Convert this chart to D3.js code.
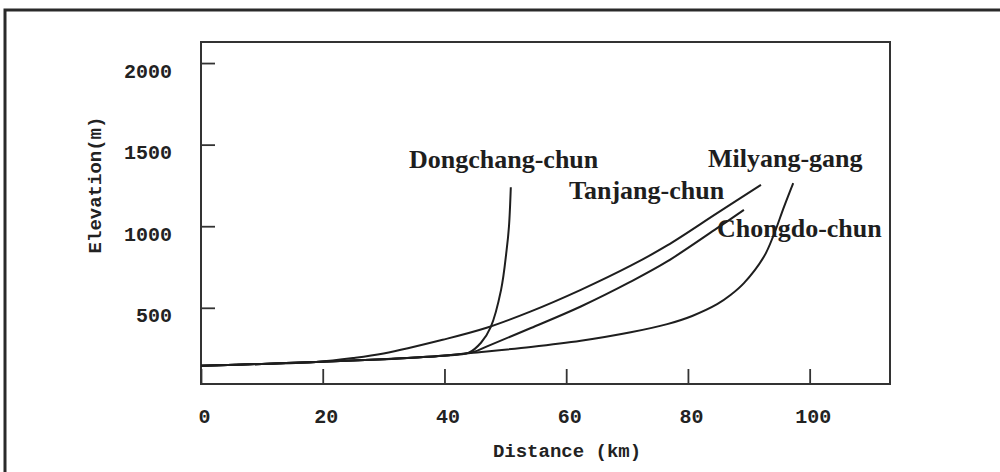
<!DOCTYPE html>
<html>
<head>
<meta charset="utf-8">
<script src="https://cdn.jsdelivr.net/npm/d3@7"></script>
<style>
  html, body { margin: 0; padding: 0; background: #fff; }
  svg { display: block; }
</style>
</head>
<body>
<div id="chart"></div>
<script>
// river profiles (distance km / elevation m)
var milyangDist = [0, 10, 18.9, 30, 39.7, 44.3, 54.2, 62.4, 70.6, 76.6, 80.7, 84.8, 87.0, 89.2, 92.5, 94.1, 95.8, 97.3];
var milyangElev = [145, 156, 168, 185, 206, 223, 260, 298, 350, 400, 450, 522, 578, 651, 814, 947, 1120, 1264];

var tanjangDist = [0, 10, 18.9, 25, 30, 39.7, 46.8, 54.2, 62.4, 70.6, 76.6, 84.8, 92.0];
var tanjangElev = [145, 156, 168, 192, 220, 304, 376, 478, 610, 758, 882, 1080, 1253];

var chongdoDist = [0, 10, 18.9, 30, 39.7, 44.8, 47.0, 54.2, 62.4, 70.6, 76.6, 84.8, 89.2];
var chongdoElev = [145, 156, 168, 185, 206, 230, 264, 376, 508, 660, 784, 988, 1100];

var dongchangDist = [0, 10, 18.9, 30, 39.7, 44.0, 46.0, 47.6, 49.3, 50.2, 50.6, 50.9];
var dongchangElev = [145, 156, 168, 185, 206, 225, 286, 382, 610, 850, 1000, 1239];

var seriesNames = ["Dongchang-chun", "Tanjang-chun", "Milyang-gang", "Chongdo-chun"];
var xTicks = [0, 20, 40, 60, 80, 100];
var yTicks = [500, 1000, 1500, 2000];
var xTitle = "Distance (km)";
var yTitle = "Elevation(m)";

var width = 1000, height = 472;
var box = { left: 201, top: 42, right: 890, bottom: 384 };

var svg = d3.select("#chart").append("svg")
    .attr("width", width)
    .attr("height", height);

// outer frame (runs off right/bottom edge)
svg.append("rect")
    .attr("x", 5).attr("y", 10)
    .attr("width", 1010).attr("height", 480)
    .attr("fill", "none")
    .attr("stroke", "#2a2a2a")
    .attr("stroke-width", 3);

var x = d3.scaleLinear().domain([0, 113.2]).range([box.left, box.right]);
var y = d3.scaleLinear().domain([33, 2129]).range([box.bottom, box.top]);

function zip(ds, es) {
    return ds.map(function(d, i) { return { dist: d, elev: es[i] }; });
}

var profiles = [
    { name: seriesNames[0], values: zip(dongchangDist, dongchangElev) },
    { name: seriesNames[1], values: zip(tanjangDist, tanjangElev) },
    { name: seriesNames[2], values: zip(milyangDist, milyangElev) },
    { name: seriesNames[3], values: zip(chongdoDist, chongdoElev) }
];

var line = d3.line()
    .curve(d3.curveCatmullRom.alpha(0.5))
    .x(function(d) { return x(d.dist); })
    .y(function(d) { return y(d.elev); });

// plot box
svg.append("rect")
    .attr("x", box.left).attr("y", box.top)
    .attr("width", box.right - box.left)
    .attr("height", box.bottom - box.top)
    .attr("fill", "none")
    .attr("stroke", "#333")
    .attr("stroke-width", 2);

var tickFont = "'Liberation Mono', 'DejaVu Sans Mono', monospace";

var xAxis = d3.axisBottom(x).tickValues(xTicks).tickSize(-15).tickPadding(0);
var gx = svg.append("g")
    .attr("transform", "translate(0," + box.bottom + ")")
    .call(xAxis);
gx.select(".domain").remove();
gx.selectAll(".tick line").attr("stroke", "#333").attr("stroke-width", 1.8);
gx.selectAll(".tick text")
    .attr("y", 39).attr("dy", 0)
    .attr("dx", 3)
    .style("font-family", tickFont)
    .style("font-weight", "bold")
    .style("font-size", "20px")
    .attr("fill", "#222");

var yAxis = d3.axisLeft(y).tickValues(yTicks).tickSize(-14).tickPadding(29)
    .tickFormat(d3.format("d"));
var gy = svg.append("g")
    .attr("transform", "translate(" + box.left + ",0)")
    .call(yAxis);
gy.select(".domain").remove();
gy.selectAll(".tick line").attr("stroke", "#333").attr("stroke-width", 1.8);
gy.selectAll(".tick text")
    .attr("dy", 14)
    .style("font-family", tickFont)
    .style("font-weight", "bold")
    .style("font-size", "20px")
    .attr("fill", "#222");

// axis titles
svg.append("text")
    .attr("x", 567).attr("y", 457)
    .attr("text-anchor", "middle")
    .style("font-family", tickFont)
    .style("font-weight", "bold")
    .style("font-size", "19px")
    .attr("fill", "#222")
    .text(xTitle);

svg.append("text")
    .attr("transform", "translate(101,185) rotate(-90)")
    .attr("text-anchor", "middle")
    .style("font-family", tickFont)
    .style("font-weight", "bold")
    .style("font-size", "19px")
    .attr("fill", "#222")
    .text(yTitle);

// profile lines
svg.selectAll(".profile")
    .data(profiles)
    .enter().append("path")
    .attr("class", "profile")
    .attr("fill", "none")
    .attr("stroke", "#1e1e1e")
    .attr("stroke-width", 2)
    .attr("d", function(d) { return line(d.values); });

// curve labels (pixel placement)
var labelPos = {
    "Dongchang-chun": [409, 168],
    "Tanjang-chun": [569, 199],
    "Milyang-gang": [708, 167],
    "Chongdo-chun": [717, 237]
};

svg.selectAll(".lbl")
    .data(profiles)
    .enter().append("text")
    .attr("class", "lbl")
    .attr("x", function(d) { return labelPos[d.name][0]; })
    .attr("y", function(d) { return labelPos[d.name][1]; })
    .style("font-family", "'Liberation Serif', 'Times New Roman', serif")
    .style("font-weight", "bold")
    .style("font-size", "26px")
    .attr("fill", "#1e1e1e")
    .text(function(d) { return d.name; });
</script>
</body>
</html>
